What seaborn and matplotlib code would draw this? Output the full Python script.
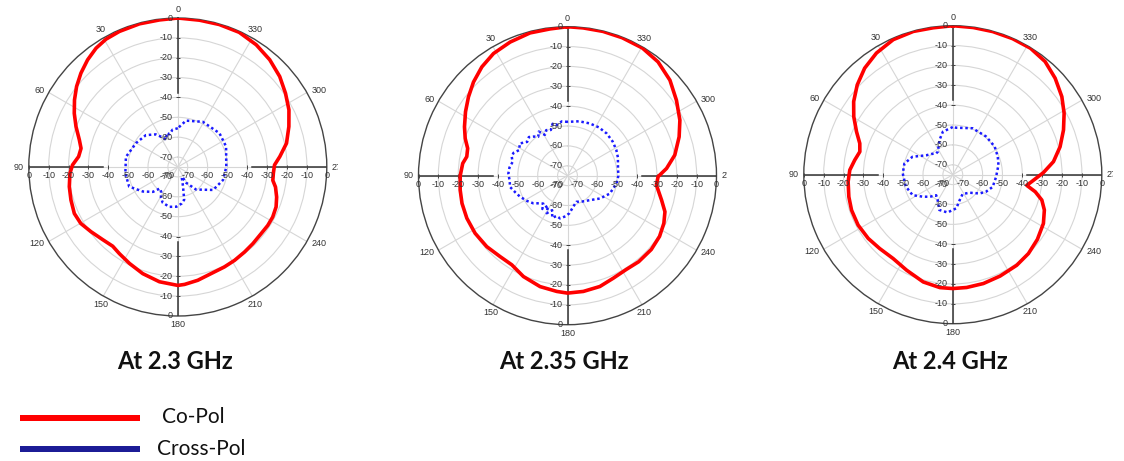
import numpy as np
import matplotlib
matplotlib.use("Agg")
import matplotlib.pyplot as plt
from matplotlib.lines import Line2D
from matplotlib.transforms import Bbox
import seaborn as sns

W, H, DPI = 1124, 461, 100
PT = 72 / DPI  # points per pixel

# ---------------- radiation patterns (angle in degrees, level in dB) ----------------
# 2.3 GHz
co23_deg = [0, 7.1, 15, 23.3, 29.3, 34.5, 40.1, 45.9, 51.5, 57, 62.6, 68.4, 74.6, 79.1,
            84, 88.9, 93.4, 100.3, 107.2, 114.2, 120.2, 126.7, 134, 140.6, 146, 153.4,
            161.8, 170.9, 180, 183.3, 190, 197.4, 205, 211.3, 218.1, 224.4, 231.3, 237,
            242.2, 247.9, 253.1, 258.4, 262, 266.2, 271.2, 275.8, 282.3, 290, 297.2,
            304.4, 311.6, 319.4, 327.3, 335.5, 343.8, 351.6, 360]
co23_db = [0, -0.4, -0.4, -0.7, -1.2, -2.4, -4.5, -7.1, -9.9, -13.0, -16.3, -19.9, -23.6,
           -25.4, -24.8, -22.0, -20.6, -19.5, -18.7, -17.9, -18.5, -20.5, -22.4, -23.4,
           -22.4, -20.7, -18.5, -16.5, -15.4, -15.8, -17.1, -18.8, -19.5, -20.0, -20.6,
           -21.0, -21.3, -21.0, -21.0, -21.6, -23.0, -24.8, -26.7, -26.8, -26.3, -23.4,
           -19.0, -15.5, -12.1, -9.3, -6.4, -3.9, -1.9, -0.5, -0.3, -0.3, 0]
cx23_deg = [0, 8, 14, 18, 23, 28, 34, 45, 60, 79, 97, 112, 125, 135, 140, 146, 151, 157,
            168, 178, 186, 191, 195, 200, 204, 208, 219, 237, 254, 270, 293, 309, 331,
            350, 360]
cx23_db = [-55.5, -56.0, -58.0, -57.0, -60.0, -58.0, -55.2, -52.3, -50.8, -48.4, -48.4,
           -48.6, -53.5, -57.3, -60.9, -60.0, -57.5, -55.5, -54.5, -55.0, -56.5, -58.2,
           -64.8, -69.0, -69.6, -66.0, -60.4, -53.8, -51.3, -50.6, -48.6, -48.0, -49.0,
           -51.3, -55.5]

# 2.35 GHz
co235_deg = [0, 6.8, 14.7, 23.2, 31.2, 38.2, 45.1, 51.5, 57.9, 64.6, 70, 74.7, 79.3, 83.3,
             90, 97.6, 104.7, 112.9, 121.9, 131.3, 140.2, 148, 156.4, 166.1, 174.7, 180,
             187.8, 196.3, 204.1, 212.1, 219.6, 228.6, 236.6, 243.7, 249.7, 255.5, 264,
             269.4, 274.2, 280.9, 289.2, 296.3, 304.7, 313, 321.5, 329.6, 338.4, 346.2,
             353.9, 360]
co235_db = [0, -0.6, -0.7, -1.8, -3.1, -5.3, -8.2, -11.3, -14.4, -17.6, -20.2, -22.9,
            -23.4, -21.9, -21.0, -20.5, -20.1, -20.0, -20.2, -20.9, -22.0, -22.1, -19.6,
            -17.5, -16.5, -15.9, -16.2, -16.9, -18.5, -19.3, -18.8, -18.8, -19.5, -20.9,
            -22.7, -26.1, -30.0, -29.4, -25.0, -20.0, -15.5, -11.9, -8.3, -4.5, -1.8,
            -0.5, -0.3, -0.2, -0.2, 0]
cx235_deg = [0, 6, 12, 16, 20, 25, 29, 33, 37, 41, 45, 50, 56, 62, 67, 71, 76, 82, 88,
             95, 101, 108, 114, 122, 129, 134, 139, 143, 147, 151, 156, 160, 165, 170,
             177, 183, 190, 199, 210, 222, 235, 247, 261, 270, 280, 290, 298, 307, 317,
             327, 337, 348, 360]
cx235_db = [-47.9, -47.5, -48.9, -47.8, -50.5, -49.7, -51.5, -48.5, -50.5, -48.9, -47.5,
            -48.5, -46.0, -47.5, -45.5, -45.3, -46.5, -45.5, -45.2, -45.8, -45.5, -47.5,
            -48.9, -51.0, -52.9, -55.0, -56.4, -54.0, -57.0, -53.4, -56.0, -52.5, -54.0,
            -53.2, -54.5, -56.1, -59.0, -61.1, -60.0, -58.4, -55.0, -51.9, -50.0, -49.4,
            -49.2, -48.0, -47.2, -46.5, -46.0, -46.0, -46.4, -47.0, -47.9]

# 2.4 GHz
co24_deg = [0, 7.6, 15.4, 23.8, 32.1, 39.6, 46.8, 53.6, 59.6, 65.9, 71.4, 76.1, 81.5,
            87.4, 93.8, 102, 109.3, 118, 127, 135.3, 144.6, 154.2, 164.6, 173.5, 180,
            187, 195.7, 205, 215.2, 223.8, 232.6, 241.7, 248.9, 254.1, 258.3, 261.8,
            264.9, 271.3, 277.4, 284.6, 292, 298.9, 305.6, 313.3, 320.8, 328.4, 336.3,
            344.4, 352.1, 360]
co24_db = [0, -0.4, -0.2, -0.7, -2.7, -5.4, -9.0, -13.0, -17.2, -21.9, -25.6, -26.8,
           -25.1, -23.1, -22.2, -21.5, -21.0, -21.0, -21.7, -22.7, -23.2, -21.6, -19.0,
           -17.8, -17.7, -17.8, -18.1, -18.7, -19.2, -20.0, -21.4, -23.2, -25.6, -28.4,
           -32.6, -37.4, -35.2, -29.4, -23.9, -19.2, -14.9, -11.0, -7.5, -4.2, -1.5,
           -0.3, -0.2, -0.2, -0.2, 0]
cx24_deg = [0, 13, 21, 33, 38, 46, 54, 66, 77, 88.5, 104, 117, 126, 134, 141, 149, 159,
            172, 186, 195, 207, 223, 235, 243, 253, 267, 282, 292, 304, 319, 337, 356, 360]
cx24_db = [-51.0, -52.8, -56.3, -61.2, -61.4, -60.0, -58.4, -52.8, -50.0, -49.8, -50.6,
           -52.3, -56.2, -59.0, -61.7, -60.2, -56.0, -55.8, -58.0, -61.7, -64.1, -62.6,
           -58.5, -56.2, -54.0, -53.2, -51.5, -50.6, -49.6, -49.5, -49.6, -51.3, -51.0]

titles = ["At 2.3 GHz", "At 2.35 GHz", "At 2.4 GHz"]
legend_labels = ["Co-Pol", "Cross-Pol"]
angle_ticks = list(range(0, 360, 30))
ring_levels = [-70, -60, -50, -40, -30, -20, -10]
scale_labels = [0, -10, -20, -30, -40, -50, -60, -70]
scale_ticks = [0, -10, -20, -30, -40]
R_MIN, R_MAX = -75, 0
AXIS_END = -37.5

CO_COLOR = "#ff0000"
CX_COLOR = "#1a1aff"
LEG_CX_COLOR = "#1c1c96"
TXT = "#333333"
TICK_FONT = "Liberation Sans"
LABEL_FONT = "Lato"

panels = [
    dict(co=(co23_deg, co23_db), cx=(cx23_deg, cx23_db),
         center=(177.8, 167.0), clip=337.5, title_x=174.5),
    dict(co=(co235_deg, co235_db), cx=(cx235_deg, cx235_db),
         center=(567.5, 175.7), clip=727.0, title_x=563.5),
    dict(co=(co24_deg, co24_db), cx=(cx24_deg, cx24_db),
         center=(952.8, 174.7), clip=1112.5, title_x=950.0),
]
R_PX = 149.0

fig = plt.figure(figsize=(W / DPI, H / DPI), dpi=DPI, facecolor="white")


def draw_panel(p):
    cx, cy = p["center"]
    rect = [(cx - R_PX) / W, (H - cy - R_PX) / H, 2 * R_PX / W, 2 * R_PX / H]
    ax = fig.add_axes(rect, projection="polar")
    ax.set_theta_zero_location("N")
    ax.set_theta_direction(1)
    ax.set_ylim(R_MIN, R_MAX)
    ax.set_yticks(ring_levels)
    ax.set_yticklabels([])
    ax.set_xticks(np.deg2rad(angle_ticks))
    ax.set_xticklabels([])
    ax.tick_params(axis="x", direction="out", length=4, width=0.8, color="#444444")
    ax.tick_params(axis="y", length=0)
    ax.grid(True, color="#d6d6d6", lw=0.8)
    ax.spines["polar"].set_color("#444444")
    ax.spines["polar"].set_linewidth(1.0)

    # dark half-length radial axes with their ticks
    for a in (0, 90, 180, 270):
        t = np.deg2rad(a)
        ax.plot([t, t], [R_MAX, AXIS_END], color="#333333", lw=1.1, zorder=3)
        marker = "_" if a in (0, 180) else "|"
        ax.plot(np.full(len(scale_ticks), t), scale_ticks, ls="none", marker=marker,
                ms=3, mew=0.7, color="#444444", zorder=3)

    # patterns
    co_deg, co_db = p["co"]
    cx_deg, cx_db = p["cx"]
    sns.lineplot(x=np.deg2rad(cx_deg), y=cx_db, ax=ax, sort=False, estimator=None,
                 color=CX_COLOR, lw=1.8, linestyle=(0, (1.0, 1.1)), zorder=4)
    sns.lineplot(x=np.deg2rad(co_deg), y=co_db, ax=ax, sort=False, estimator=None,
                 color=CO_COLOR, lw=2.6, zorder=5)
    ax.set_xlabel("")
    ax.set_ylabel("")

    # radial scale labels along the four axes
    offs = {0: (-5, 0, "right", "center"), 180: (-5, 0, "right", "center"),
            90: (0, -4, "center", "top"), 270: (0, -4, "center", "top")}
    for a, (dx, dy, ha, va) in offs.items():
        for v in scale_labels:
            ax.annotate(str(v), xy=(np.deg2rad(a), v), xytext=(dx * PT, dy * PT),
                        textcoords="offset points", ha=ha, va=va, fontsize=6.5,
                        color=TXT, family=TICK_FONT, annotation_clip=False, zorder=6)

    # angle labels around the rim
    clip_box = Bbox([[0, 0], [p["clip"], H]])
    for a in angle_ticks:
        t = np.deg2rad(a)
        ux, uy = -np.sin(t), np.cos(t)
        ha = "right" if ux < -0.6 else ("left" if ux > 0.6 else "center")
        va = "bottom" if uy > 0.6 else ("top" if uy < -0.6 else "center")
        txt = ax.annotate(str(a), xy=(t, R_MAX), xytext=(5 * PT * ux, 4 * PT * uy),
                          textcoords="offset points", ha=ha, va=va, fontsize=6.5,
                          color=TXT, family=TICK_FONT, annotation_clip=False)
        txt.set_clip_box(clip_box)
        txt.set_clip_on(True)
    return ax


for p, title in zip(panels, titles):
    draw_panel(p)
    fig.text(p["title_x"] / W, 1 - 369 / H, title, ha="center", va="baseline",
             fontsize=17, fontweight="bold", family=LABEL_FONT, color="#111111")

# legend
for (y, color), label, tx, ty in zip([(417.7, CO_COLOR), (448.5, LEG_CX_COLOR)],
                                     legend_labels, [162, 157], [423.3, 455.0]):
    fig.add_artist(Line2D([20 / W, 140 / W], [1 - y / H, 1 - y / H], color=color,
                          lw=6 * PT, solid_capstyle="butt", transform=fig.transFigure))
    fig.text(tx / W, 1 - ty / H, label, ha="left", va="baseline", fontsize=15,
             family=LABEL_FONT, color="#111111")

fig.savefig("out.png", dpi=DPI, facecolor="white")
